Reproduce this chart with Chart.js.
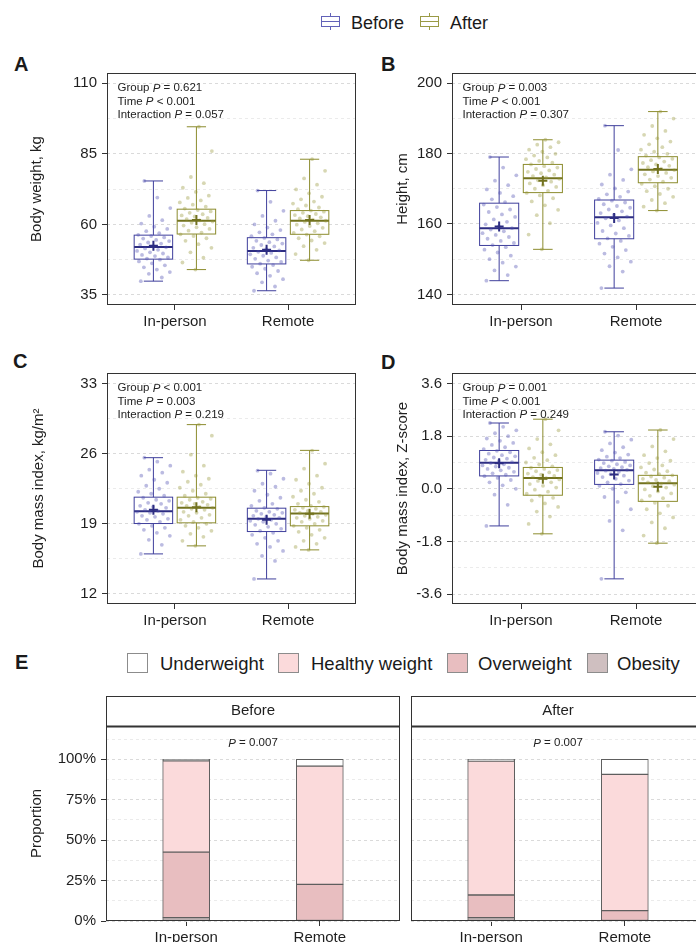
<!DOCTYPE html>
<html>
<head>
<meta charset="utf-8">
<script src="https://cdn.jsdelivr.net/npm/chart.js@4.4.1/dist/chart.umd.min.js"></script>
<style>
  html, body { margin: 0; padding: 0; background: #fff; }
  body { width: 696px; height: 942px; overflow: hidden; position: relative;
         font-family: "Liberation Sans", Arial, sans-serif; color: #1a1a1a; }
  canvas { position: absolute; }
  .tag { position: absolute; font-weight: bold; font-size: 20px; line-height: 20px; }
  .lg { position: absolute; font-size: 18px; line-height: 20px; white-space: nowrap; }
  .sw { position: absolute; width: 21px; height: 20px; box-sizing: border-box; border: 1px solid #8c8c8c; }
</style>
</head>
<body>

<!-- top legend -->
<svg style="position:absolute;left:321px;top:13px" width="20" height="17">
  <rect x="0.5" y="3.5" width="18" height="10" fill="#fff" stroke="#6262b8"/>
  <path d="M0.5 8.5H18.5M9.5 0V3.5M9.5 13.5V17" stroke="#6262b8" fill="none"/>
</svg>
<div class="lg" style="left:351px;top:13px">Before</div>
<svg style="position:absolute;left:420px;top:13px" width="20" height="17">
  <rect x="0.5" y="3.5" width="18" height="10" fill="#fff" stroke="#9a9a45"/>
  <path d="M0.5 8.5H18.5M9.5 0V3.5M9.5 13.5V17" stroke="#9a9a45" fill="none"/>
</svg>
<div class="lg" style="left:450px;top:13px">After</div>

<div class="tag" style="left:14px;top:54px">A</div>
<div class="tag" style="left:381px;top:54px">B</div>
<div class="tag" style="left:13px;top:351px">C</div>
<div class="tag" style="left:381px;top:352px">D</div>
<div class="tag" style="left:15px;top:652px">E</div>

<!-- legend of panel E -->
<div class="sw" style="left:127px;top:653px;background:#ffffff"></div>
<div class="lg" style="left:160px;top:654px;font-size:18.5px">Underweight</div>
<div class="sw" style="left:278px;top:653px;background:#fbdadb"></div>
<div class="lg" style="left:311px;top:654px;font-size:18.5px">Healthy weight</div>
<div class="sw" style="left:447px;top:653px;background:#e8bec0"></div>
<div class="lg" style="left:478px;top:654px;font-size:18.5px">Overweight</div>
<div class="sw" style="left:587px;top:653px;background:#cfbfc0"></div>
<div class="lg" style="left:617px;top:654px;font-size:18.5px">Obesity</div>

<canvas id="chartA" width="360" height="292" style="left:0;top:50px"></canvas>
<canvas id="chartB" width="350" height="292" style="left:360px;top:50px"></canvas>
<canvas id="chartC" width="360" height="292" style="left:0;top:350px"></canvas>
<canvas id="chartD" width="350" height="292" style="left:360px;top:350px"></canvas>
<canvas id="chartE1" width="402" height="262" style="left:0;top:690px"></canvas>
<canvas id="chartE2" width="310" height="262" style="left:404px;top:690px"></canvas>

<script>
Chart.defaults.font.family = '"Liberation Sans", Arial, sans-serif';
Chart.defaults.font.size = 15;
Chart.defaults.color = '#1f1f1f';

const groups = ['In-person', 'Remote'];

// box stats per group: [lower whisker, Q1, median, Q3, upper whisker]
// A - body weight, kg
const weightBeforeBox = [[39.9, 47.7, 52.0, 56.2, 75.4], [36.5, 46.0, 50.6, 55.3, 72.0]];
const weightAfterBox = [[44.0, 56.6, 61.3, 65.4, 94.6], [47.3, 56.5, 61.3, 64.9, 83.1]];
const weightBeforeMean = [52.4, 51.0];
const weightAfterMean = [61.6, 61.6];
const weightBeforePts = [
  [39.9, 41.2, 42.5, 43.1, 44.0, 44.8, 45.5, 46.2, 46.9, 47.5, 47.9, 48.3, 48.8, 49.2, 49.7, 50.1, 50.6, 51.0, 51.5, 51.9,
   52.3, 52.8, 53.2, 53.6, 54.1, 54.5, 55.0, 55.4, 55.9, 56.3, 56.9, 57.6, 58.4, 59.2, 60.3, 61.5, 63.0, 65.8, 69.5, 75.4],
  [36.5, 38.0, 39.5, 40.6, 41.8, 42.7, 43.5, 44.3, 45.0, 45.6, 46.1, 46.7, 47.2, 47.8, 48.3, 48.9, 49.4, 49.9, 50.3, 50.8,
   51.2, 51.7, 52.2, 52.7, 53.2, 53.7, 54.2, 54.7, 55.2, 55.8, 56.5, 57.2, 58.0, 58.9, 60.0, 61.3, 63.0, 64.8, 68.0, 72.0]
];
const weightAfterPts = [
  [44.0, 46.5, 48.2, 50.1, 51.7, 53.0, 54.2, 55.1, 55.9, 56.5, 57.1, 57.8, 58.4, 59.0, 59.6, 60.1, 60.6, 61.0, 61.4, 61.9,
   62.3, 62.8, 63.2, 63.6, 64.1, 64.6, 65.1, 65.6, 66.3, 67.0, 67.8, 68.5, 69.4, 70.2, 71.5, 73.0, 74.6, 76.8, 86.0, 94.6],
  [47.3, 49.5, 51.0, 52.3, 53.4, 54.3, 55.1, 55.8, 56.4, 57.0, 57.6, 58.2, 58.8, 59.4, 59.9, 60.4, 60.9, 61.3, 61.7, 62.1,
   62.5, 62.9, 63.3, 63.7, 64.1, 64.5, 64.9, 65.4, 66.0, 66.7, 67.4, 68.1, 68.9, 69.8, 71.0, 72.4, 74.1, 76.3, 79.0, 83.1]
];
const weightTicks = [35, 60, 85, 110];
const weightMinor = [47.5, 72.5, 97.5];
const weightNotes = [['Group', '= 0.621'], ['Time', '< 0.001'], ['Interaction', '= 0.057']];

// B - height, cm
const heightBeforeBox = [[143.9, 153.9, 158.8, 165.9, 179.0], [141.8, 155.8, 161.9, 166.8, 187.9]];
const heightAfterBox = [[152.8, 168.9, 173.0, 176.9, 183.9], [163.8, 171.7, 175.4, 179.1, 191.9]];
const heightBeforeMean = [159.3, 161.7];
const heightAfterMean = [172.3, 175.6];
const heightBeforePts = [
  [143.9, 145.5, 146.8, 147.9, 149.0, 150.0, 151.0, 151.9, 152.7, 153.4, 154.0, 154.6, 155.2, 155.8, 156.3, 156.9, 157.4, 157.9, 158.4, 158.8,
   159.3, 159.9, 160.6, 161.3, 162.0, 162.7, 163.4, 164.1, 164.8, 165.5, 166.2, 167.0, 167.9, 168.8, 169.8, 171.0, 172.3, 173.8, 176.0, 179.0],
  [141.8, 146.5, 148.0, 149.3, 150.5, 151.6, 152.6, 153.5, 154.4, 155.2, 155.9, 156.6, 157.3, 158.0, 158.8, 159.6, 160.3, 161.0, 161.6, 162.1,
   162.6, 163.1, 163.6, 164.1, 164.6, 165.1, 165.6, 166.1, 166.6, 167.1, 167.7, 168.4, 169.2, 170.1, 171.2, 172.5, 174.0, 175.5, 181.0, 187.9]
];
const heightAfterPts = [
  [152.8, 157.0, 160.2, 162.5, 164.0, 165.3, 166.4, 167.3, 168.1, 168.8, 169.4, 170.0, 170.5, 171.0, 171.5, 172.0, 172.4, 172.8, 173.2, 173.6,
   174.0, 174.4, 174.8, 175.2, 175.6, 176.0, 176.4, 176.9, 177.4, 177.9, 178.4, 178.9, 179.4, 179.9, 180.5, 181.1, 181.8, 182.5, 183.2, 183.9],
  [163.8, 164.9, 165.9, 166.8, 167.7, 168.5, 169.3, 170.0, 170.7, 171.4, 172.0, 172.6, 173.1, 173.6, 174.1, 174.5, 174.9, 175.3, 175.7, 176.1,
   176.5, 176.9, 177.3, 177.7, 178.1, 178.5, 178.9, 179.4, 179.9, 180.5, 181.1, 181.8, 182.6, 183.4, 184.3, 185.3, 186.4, 187.8, 189.9, 191.9]
];
const heightTicks = [140, 160, 180, 200];
const heightMinor = [150, 170, 190];
const heightNotes = [['Group', '= 0.003'], ['Time', '< 0.001'], ['Interaction', '= 0.307']];

// C - body mass index, kg/m2
const bmiBeforeBox = [[16.0, 19.03, 20.26, 21.66, 25.6], [13.5, 18.23, 19.5, 20.56, 24.34]];
const bmiAfterBox = [[16.8, 19.1, 20.6, 21.66, 28.9], [16.4, 18.8, 20.03, 20.72, 26.33]];
const bmiBeforeMean = [20.4, 19.4];
const bmiAfterMean = [20.66, 20.0];
const bmiBeforePts = [
  [16.0, 16.9, 17.4, 17.8, 18.1, 18.4, 18.6, 18.8, 19.0, 19.2, 19.4, 19.5, 19.7, 19.8, 20.0, 20.1, 20.2, 20.3, 20.4, 20.6,
   20.7, 20.8, 21.0, 21.1, 21.3, 21.4, 21.6, 21.8, 22.0, 22.2, 22.5, 22.8, 23.1, 23.4, 23.8, 24.1, 24.4, 24.8, 25.2, 25.6],
  [13.5, 15.3, 15.8, 16.3, 16.7, 17.0, 17.3, 17.6, 17.9, 18.1, 18.3, 18.5, 18.7, 18.9, 19.0, 19.2, 19.3, 19.4, 19.5, 19.6,
   19.7, 19.8, 19.9, 20.0, 20.1, 20.2, 20.3, 20.5, 20.6, 20.8, 21.0, 21.3, 21.6, 21.9, 22.3, 22.7, 23.0, 23.5, 24.0, 24.3]
];
const bmiAfterPts = [
  [16.8, 17.3, 17.7, 18.0, 18.3, 18.6, 18.8, 19.0, 19.2, 19.4, 19.6, 19.8, 19.9, 20.1, 20.2, 20.4, 20.5, 20.6, 20.7, 20.8,
   20.9, 21.0, 21.1, 21.2, 21.4, 21.5, 21.6, 21.8, 22.0, 22.3, 22.6, 22.9, 23.2, 23.5, 23.8, 24.2, 24.8, 25.9, 27.8, 28.9],
  [16.4, 16.7, 17.0, 17.3, 17.6, 17.9, 18.2, 18.4, 18.6, 18.8, 19.0, 19.2, 19.3, 19.5, 19.6, 19.7, 19.8, 19.9, 20.0, 20.1,
   20.2, 20.3, 20.4, 20.5, 20.6, 20.7, 20.8, 21.0, 21.2, 21.4, 21.7, 22.0, 22.3, 22.6, 23.0, 23.4, 23.8, 24.5, 25.0, 26.3]
];
const bmiTicks = [12, 19, 26, 33];
const bmiMinor = [15.5, 22.5, 29.5];
const bmiNotes = [['Group', '< 0.001'], ['Time', '= 0.003'], ['Interaction', '= 0.219']];

// D - body mass index, Z-score
const zBeforeBox = [[-1.27, 0.44, 0.89, 1.31, 2.25], [-3.08, 0.15, 0.63, 0.98, 1.95]];
const zAfterBox = [[-1.54, -0.22, 0.37, 0.73, 2.38], [-1.86, -0.43, 0.19, 0.46, 2.01]];
const zBeforeMean = [0.87, 0.49];
const zAfterMean = [0.34, 0.07];
const zBeforePts = [
  [-1.27, -0.55, -0.2, 0.0, 0.12, 0.22, 0.3, 0.37, 0.43, 0.48, 0.53, 0.58, 0.63, 0.68, 0.72, 0.76, 0.8, 0.84, 0.88, 0.91,
   0.95, 0.99, 1.03, 1.07, 1.11, 1.15, 1.2, 1.25, 1.3, 1.36, 1.42, 1.5, 1.57, 1.64, 1.72, 1.8, 1.9, 2.0, 2.12, 2.25],
  [-3.08, -1.42, -1.1, -0.7, -0.45, -0.28, -0.12, 0.0, 0.1, 0.16, 0.22, 0.28, 0.34, 0.4, 0.45, 0.5, 0.54, 0.58, 0.62, 0.65,
   0.68, 0.71, 0.74, 0.77, 0.8, 0.84, 0.88, 0.92, 0.96, 1.0, 1.05, 1.1, 1.17, 1.24, 1.32, 1.42, 1.55, 1.68, 1.82, 1.95]
];
const zAfterPts = [
  [-1.54, -1.2, -0.95, -0.78, -0.62, -0.5, -0.4, -0.31, -0.24, -0.17, -0.1, -0.03, 0.04, 0.1, 0.16, 0.22, 0.27, 0.32, 0.36, 0.4,
   0.44, 0.48, 0.52, 0.56, 0.6, 0.64, 0.68, 0.72, 0.77, 0.83, 0.9, 0.98, 1.06, 1.15, 1.25, 1.38, 1.52, 1.7, 2.0, 2.38],
  [-1.86, -1.6, -1.35, -1.15, -0.98, -0.84, -0.7, -0.58, -0.48, -0.4, -0.32, -0.24, -0.16, -0.09, -0.02, 0.04, 0.09, 0.14, 0.18, 0.22,
   0.26, 0.3, 0.34, 0.38, 0.42, 0.46, 0.5, 0.55, 0.6, 0.66, 0.73, 0.8, 0.88, 0.96, 1.05, 1.15, 1.28, 1.45, 1.7, 2.01]
];
const zTicks = [-3.6, -1.8, 0, 1.8, 3.6];
const zMinor = [-2.7, -0.9, 0.9, 2.7];
const zNotes = [['Group', '= 0.001'], ['Time', '< 0.001'], ['Interaction', '= 0.249']];

// E - weight status proportions (%), per group
const beforeUnder = [0.9, 4.2];
const beforeHealthy = [56.5, 73.1];
const beforeOver = [40.5, 22.7];
const beforeObese = [2.1, 0];
const afterUnder = [1.1, 9.3];
const afterHealthy = [82.8, 84.3];
const afterOver = [14.0, 6.4];
const afterObese = [2.1, 0];
const shareTicks = [0, 25, 50, 75, 100];
const shareMinor = [12.5, 37.5, 62.5, 87.5, 112.5];
const shareNote = ['', '= 0.007'];

const BLUE = '#3f3f9c', BLUE_DARK = '#2d2d82', BLUE_PT = 'rgba(75,75,175,0.38)';
const OLIVE = '#8c8c2e', OLIVE_DARK = '#72721e', OLIVE_PT = 'rgba(150,150,55,0.38)';
const DODGE = 0.19;

function jitterPts(pts, shift, seed) {
  const out = [];
  pts.forEach((vals, g) => vals.forEach((v, i) => {
    const j = (((i * 0.618034 + seed) % 1) - 0.5) * 0.3;
    out.push({x: g + 1 + shift + j, y: v});
  }));
  return out;
}

function noteLine(ctx, x, y, pre, post) {
  ctx.font = '11.5px "Liberation Sans", Arial, sans-serif';
  let cx = x;
  if (pre) { ctx.fillText(pre + ' ', cx, y); cx += ctx.measureText(pre + ' ').width; }
  ctx.font = 'italic 11.5px "Liberation Sans", Arial, sans-serif';
  ctx.fillText('P', cx, y);
  cx += ctx.measureText('P').width;
  ctx.font = '11.5px "Liberation Sans", Arial, sans-serif';
  ctx.fillText(' ' + post, cx, y);
}

const framePlugin = {
  id: 'frame',
  afterDraw(chart) {
    const {ctx, chartArea: a} = chart;
    ctx.save();
    ctx.strokeStyle = '#333';
    ctx.lineWidth = 1;
    ctx.strokeRect(Math.round(a.left) + 0.5, Math.round(a.top) + 0.5,
      Math.round(a.right - a.left) - 1, Math.round(a.bottom - a.top) - 1);
    ctx.restore();
  }
};

function boxPlugin(sets) {
  return {
    id: 'boxes',
    beforeDatasetsDraw(chart) {
      const {ctx, scales: {x, y}} = chart;
      ctx.save();
      sets.forEach(s => s.box.forEach((b, g) => {
        const c = g + 1 + s.shift;
        const l = x.getPixelForValue(c - 0.17), r = x.getPixelForValue(c + 0.17);
        const cx = x.getPixelForValue(c);
        const cl = x.getPixelForValue(c - 0.085), cr = x.getPixelForValue(c + 0.085);
        const [lo, q1, med, q3, hi] = b.map(v => y.getPixelForValue(v));
        ctx.fillStyle = '#fff';
        ctx.fillRect(l, q3, r - l, q1 - q3);
        ctx.strokeStyle = s.line;
        ctx.lineWidth = 1;
        ctx.strokeRect(l, q3, r - l, q1 - q3);
        ctx.beginPath();
        ctx.moveTo(cx, q3); ctx.lineTo(cx, hi);
        ctx.moveTo(cx, q1); ctx.lineTo(cx, lo);
        ctx.moveTo(cl, hi); ctx.lineTo(cr, hi);
        ctx.moveTo(cl, lo); ctx.lineTo(cr, lo);
        ctx.stroke();
        ctx.strokeStyle = s.dark;
        ctx.lineWidth = 2;
        ctx.beginPath();
        ctx.moveTo(l, med); ctx.lineTo(r, med);
        ctx.stroke();
      }));
      ctx.restore();
    },
    afterDatasetsDraw(chart) {
      const {ctx, scales: {x, y}} = chart;
      ctx.save();
      ctx.lineWidth = 2;
      sets.forEach(s => s.mean.forEach((m, g) => {
        const px = x.getPixelForValue(g + 1 + s.shift), py = y.getPixelForValue(m);
        ctx.strokeStyle = s.dark;
        ctx.beginPath();
        ctx.moveTo(px - 4.5, py); ctx.lineTo(px + 4.5, py);
        ctx.moveTo(px, py - 5); ctx.lineTo(px, py + 5);
        ctx.stroke();
      }));
      ctx.restore();
    }
  };
}

function notesPlugin(notes) {
  return {
    id: 'notes',
    afterDraw(chart) {
      const {ctx, chartArea: a} = chart;
      ctx.save();
      ctx.fillStyle = '#222';
      ctx.textBaseline = 'middle';
      notes.forEach((n, i) => noteLine(ctx, a.left + 10.5, a.top + 15.3 + i * 13.2, n[0], n[1]));
      ctx.restore();
    }
  };
}

function yGrid(majors) {
  const isMajor = c => c.tick && majors.includes(c.tick.value);
  return {
    color: c => isMajor(c) ? '#dadada' : '#ebebeb',
    tickColor: c => isMajor(c) ? '#333' : 'rgba(0,0,0,0)',
    tickLength: 5,
    lineWidth: 1
  };
}

function boxChart(id, o) {
  new Chart(document.getElementById(id), {
    type: 'scatter',
    data: {
      datasets: [
        {data: jitterPts(o.beforePts, -DODGE, 0.13), backgroundColor: BLUE_PT, pointRadius: 1.9, pointBorderWidth: 0},
        {data: jitterPts(o.afterPts, DODGE, 0.47), backgroundColor: OLIVE_PT, pointRadius: 1.9, pointBorderWidth: 0}
      ]
    },
    options: {
      responsive: false,
      animation: false,
      events: [],
      layout: {padding: {top: 23, right: o.right, left: 0, bottom: 0}},
      plugins: {legend: {display: false}, tooltip: {enabled: false}},
      scales: {
        x: {
          type: 'linear', min: 0.4, max: 2.6,
          afterBuildTicks: s => { s.ticks = [{value: 1}, {value: 2}]; },
          afterFit: s => { s.height = o.xh; },
          ticks: {callback: v => groups[v - 1], padding: 3, maxRotation: 0},
          grid: {drawOnChartArea: false, tickLength: 5, tickColor: '#333'},
          border: {display: false}
        },
        y: {
          min: o.min, max: o.max,
          afterBuildTicks: s => { s.ticks = o.ticks.concat(o.minor).sort((a, b) => a - b).map(v => ({value: v})); },
          afterFit: s => { s.width = o.yw; },
          ticks: {callback: v => o.ticks.includes(v) ? o.fmt(v) : '', padding: 5},
          grid: yGrid(o.ticks),
          border: {display: false, dash: [3, 3]},
          title: {display: true, text: o.title, padding: {top: o.tp, bottom: 0}, font: {size: 15}}
        }
      }
    },
    plugins: [
      boxPlugin([
        {box: o.beforeBox, mean: o.beforeMean, shift: -DODGE, line: BLUE, dark: BLUE_DARK},
        {box: o.afterBox, mean: o.afterMean, shift: DODGE, line: OLIVE, dark: OLIVE_DARK}
      ]),
      framePlugin,
      notesPlugin(o.notes)
    ]
  });
}

boxChart('chartA', {
  beforePts: weightBeforePts, afterPts: weightAfterPts, beforeBox: weightBeforeBox, afterBox: weightAfterBox,
  beforeMean: weightBeforeMean, afterMean: weightAfterMean, ticks: weightTicks, minor: weightMinor,
  notes: weightNotes, min: 31.45, max: 113.65, fmt: v => String(v), title: 'Body weight, kg',
  yw: 107, right: 2, xh: 37, tp: 28
});
boxChart('chartB', {
  beforePts: heightBeforePts, afterPts: heightAfterPts, beforeBox: heightBeforeBox, afterBox: heightAfterBox,
  beforeMean: heightBeforeMean, afterMean: heightAfterMean, ticks: heightTicks, minor: heightMinor,
  notes: heightNotes, min: 137.0, max: 202.85, fmt: v => String(v), title: 'Height, cm',
  yw: 92, right: 5, xh: 37, tp: 34
});
boxChart('chartC', {
  beforePts: bmiBeforePts, afterPts: bmiAfterPts, beforeBox: bmiBeforeBox, afterBox: bmiAfterBox,
  beforeMean: bmiBeforeMean, afterMean: bmiAfterMean, ticks: bmiTicks, minor: bmiMinor,
  notes: bmiNotes, min: 11.0, max: 34.05, fmt: v => String(v), title: 'Body mass index, kg/m²',
  yw: 107, right: 2, xh: 38, tp: 30
});
boxChart('chartD', {
  beforePts: zBeforePts, afterPts: zAfterPts, beforeBox: zBeforeBox, afterBox: zAfterBox,
  beforeMean: zBeforeMean, afterMean: zAfterMean, ticks: zTicks, minor: zMinor,
  notes: zNotes, min: -3.94, max: 3.96, fmt: v => v.toFixed(1), title: 'Body mass index, Z-score',
  yw: 92, right: 5, xh: 38, tp: 34
});

function stripPlugin(label) {
  return {
    id: 'strip',
    afterDraw(chart) {
      const {ctx, chartArea: a} = chart;
      const l = Math.round(a.left) + 0.5, r = Math.round(a.right) - 0.5, t = Math.round(a.top) - 29.5;
      ctx.save();
      ctx.strokeStyle = '#333';
      ctx.lineWidth = 1;
      ctx.strokeRect(l, t, r - l, 30);
      ctx.lineWidth = 2;
      ctx.beginPath();
      ctx.moveTo(l - 0.5, Math.round(a.top) + 0.5); ctx.lineTo(r + 0.5, Math.round(a.top) + 0.5);
      ctx.stroke();
      ctx.fillStyle = '#1f1f1f';
      ctx.textAlign = 'center';
      ctx.textBaseline = 'middle';
      ctx.font = '15px "Liberation Sans", Arial, sans-serif';
      ctx.fillText(label, (a.left + a.right) / 2, a.top - 15);
      ctx.textAlign = 'left';
      ctx.fillStyle = '#222';
      ctx.font = '11.5px "Liberation Sans", Arial, sans-serif';
      const w = ctx.measureText('P = 0.007').width;
      noteLine(ctx, (a.left + a.right) / 2 - w / 2, a.top + 17.3, shareNote[0], shareNote[1]);
      ctx.restore();
    }
  };
}

function shareChart(id, o) {
  const pts = arr => arr.map((v, g) => ({x: g + 1, y: v}));
  new Chart(document.getElementById(id), {
    type: 'bar',
    data: {
      datasets: [
        {label: 'Obesity', data: pts(o.obese), backgroundColor: '#cfbfc0'},
        {label: 'Overweight', data: pts(o.over), backgroundColor: '#e8bec0'},
        {label: 'Healthy weight', data: pts(o.healthy), backgroundColor: '#fbdadb'},
        {label: 'Underweight', data: pts(o.under), backgroundColor: '#ffffff'}
      ]
    },
    options: {
      responsive: false,
      animation: false,
      events: [],
      datasets: {bar: {barThickness: 47, borderWidth: 1, borderColor: '#5e5e5e', borderSkipped: false}},
      layout: {padding: {top: 36, right: o.right, left: 0, bottom: 0}},
      plugins: {legend: {display: false}, tooltip: {enabled: false}},
      scales: {
        x: {
          type: 'linear', min: 0.4, max: 2.6, stacked: true, offset: false,
          afterBuildTicks: s => { s.ticks = [{value: 1}, {value: 2}]; },
          afterFit: s => { s.height = 31; },
          ticks: {callback: v => groups[v - 1], padding: 3, maxRotation: 0},
          grid: {drawOnChartArea: false, offset: false, tickLength: 5, tickColor: '#333'},
          border: {display: false}
        },
        y: {
          stacked: true, min: 0, max: 120.6,
          afterBuildTicks: s => { s.ticks = shareTicks.concat(shareMinor).sort((a, b) => a - b).map(v => ({value: v})); },
          afterFit: s => { s.width = o.yw; },
          ticks: {display: o.labels, callback: v => shareTicks.includes(v) ? v + '%' : '', padding: 5},
          grid: Object.assign(yGrid(shareTicks), {drawTicks: o.labels}),
          border: {display: false, dash: [3, 3]},
          title: {display: o.labels, text: 'Proportion', padding: {top: 28, bottom: 0}, font: {size: 15}}
        }
      }
    },
    plugins: [framePlugin, stripPlugin(o.label)]
  });
}

shareChart('chartE1', {
  label: 'Before', under: beforeUnder, healthy: beforeHealthy, over: beforeOver, obese: beforeObese,
  yw: 106, right: 2, labels: true
});
shareChart('chartE2', {
  label: 'After', under: afterUnder, healthy: afterHealthy, over: afterOver, obese: afterObese,
  yw: 7, right: 9, labels: false
});
</script>
</body>
</html>
